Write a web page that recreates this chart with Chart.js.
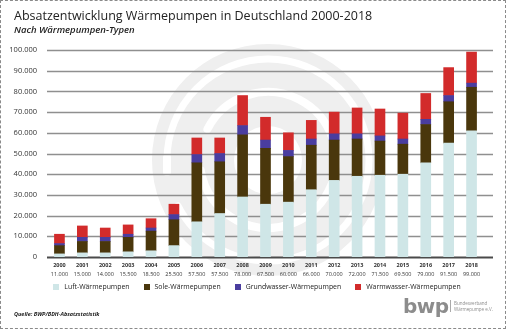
<!DOCTYPE html>
<html>
<head>
<meta charset="utf-8">
<script src="https://cdn.jsdelivr.net/npm/chart.js@4"></script>
<style>
  body { margin: 0; background: #fff; }
  #wrap { position: relative; width: 506px; height: 329px; overflow: hidden; background: #fff; font-family: "Open Sans", sans-serif; color: #222; }
  #wrap canvas { position: absolute; left: 0; top: 0; }
  #frame { position: absolute; left: 0; top: 0; right: 0; bottom: 0; border: 1px dashed #8a8a8a; pointer-events: none; }
  #title { position: absolute; left: 14px; top: 7px; font-size: 12.5px; white-space: nowrap; }
  #subtitle { position: absolute; left: 14px; top: 23px; font-size: 9.5px; font-style: italic; font-weight: 600; white-space: nowrap; }
  #legend { position: absolute; left: 0; width: 506px; top: 282px; display: flex; justify-content: center; gap: 14px; font-size: 6.9px; padding-left: 4px; }
  #legend span { display: flex; align-items: center; white-space: nowrap; }
  #legend i { display: inline-block; width: 6px; height: 6px; margin-right: 5px; }
  #source { position: absolute; left: 14px; top: 310px; font-size: 5.5px; font-style: italic; font-weight: 700; }
  #logo { position: absolute; left: 403px; top: 294px; font-family: "DejaVu Sans", sans-serif; font-weight: 700; font-size: 20px; color: #8c8c8c; letter-spacing: -0.5px; }
  #logoText { position: absolute; left: 450px; top: 300px; border-left: 1px solid #aaa; padding-left: 3px; font-size: 4.5px; line-height: 6px; color: #8c8c8c; }
</style>
</head>
<body>
<div id="wrap">
  <canvas id="chart" width="506" height="329"></canvas>
  <div id="title">Absatzentwicklung Wärmepumpen in Deutschland 2000-2018</div>
  <div id="subtitle">Nach Wärmepumpen-Typen</div>
  <div id="legend"></div>
  <div id="source">Quelle: BWP/BDH-Absatzstatistik</div>
  <div id="logo">bwp</div>
  <div id="logoText">Bundesverband<br>Wärmepumpe e.V.</div>
  <div id="frame"></div>
</div>
<script>
const years = ['2000','2001','2002','2003','2004','2005','2006','2007','2008','2009','2010','2011','2012','2013','2014','2015','2016','2017','2018'];
const totals = [11000, 15000, 14000, 15500, 18500, 25500, 57500, 57500, 78000, 67500, 60000, 66000, 70000, 72000, 71500, 69500, 79000, 91500, 99000];

// units sold per heat pump type
const luft        = [1500, 2000, 2000, 2500, 3000, 5500, 17000, 21000, 29000, 25500, 26500, 32500, 37000, 39000, 39500, 40000, 45500, 55000, 61000];
const sole        = [4000, 5500, 5500, 7000, 9500, 12500, 28500, 25000, 30000, 27000, 22000, 21500, 19500, 18000, 16500, 14500, 18500, 20000, 21000];
const grundwasser = [1000, 2000, 2000, 1500, 1500, 2500, 4000, 4000, 4500, 4000, 3000, 3000, 3000, 2500, 2500, 2500, 2500, 3000, 2000];
const warmwasser  = [4500, 5500, 4500, 4500, 4500, 5000, 8000, 7500, 14500, 11000, 8500, 9000, 10500, 12500, 13000, 12500, 12500, 13500, 15000];

const seriesNames = ['Luft-Wärmepumpen', 'Sole-Wärmepumpen', 'Grundwasser-Wärmepumpen', 'Warmwasser-Wärmepumpen'];
const seriesColors = ['#cfe6e7', '#4a370c', '#4a3d9f', '#d22b2b'];

const fmt = n => String(n).replace(/\B(?=(\d{3})+(?!\d))/g, '.');

// legend row under the chart
const legendEl = document.getElementById('legend');
seriesNames.forEach((name, i) => {
  const item = document.createElement('span');
  item.innerHTML = `<i style="background:${seriesColors[i]}"></i>${name}`;
  legendEl.appendChild(item);
});

// grey spiral logo behind the bars
const watermark = {
  id: 'watermark',
  beforeDraw(chart) {
    const ctx = chart.ctx;
    const cx = 268, cy = 160;
    ctx.save();
    ctx.fillStyle = '#efefef';
    ctx.beginPath(); ctx.arc(cx, cy, 116, 0, Math.PI * 2); ctx.fill();
    // white spiral channels
    ctx.strokeStyle = '#fff';
    ctx.lineCap = 'round';
    ctx.lineWidth = 7;
    ctx.beginPath(); ctx.arc(cx, cy, 101, Math.PI * 1.0, Math.PI * 0.85); ctx.stroke();
    ctx.lineWidth = 8;
    ctx.beginPath(); ctx.arc(cx, cy, 68, Math.PI * 1.15, Math.PI * 0.95); ctx.stroke();
    ctx.beginPath(); ctx.moveTo(cx - 101, cy - 2); ctx.lineTo(cx - 101, cy + 12); ctx.stroke();
    ctx.fillStyle = '#fff';
    ctx.beginPath(); ctx.arc(cx, cy, 34, 0, Math.PI * 2); ctx.fill();
    ctx.restore();
  }
};

// horizontal grid lines, running a bit past the last bar
const gridLines = {
  id: 'gridLines',
  beforeDatasetsDraw(chart) {
    const { ctx, chartArea, scales: { y } } = chart;
    ctx.save();
    y.ticks.forEach(t => {
      const py = Math.round(y.getPixelForValue(t.value)) + 0.5;
      ctx.strokeStyle = t.value === 0 ? '#4a4a4a' : '#8f8f8f';
      ctx.lineWidth = t.value === 0 ? 2 : 1.4;
      ctx.beginPath();
      ctx.moveTo(47, py);
      ctx.lineTo(chartArea.right + 10, py);
      ctx.stroke();
    });
    ctx.restore();
  }
};

const noGrid = { display: false, drawTicks: false };

new Chart(document.getElementById('chart'), {
  type: 'bar',
  data: {
    labels: years,
    datasets: [luft, sole, grundwasser, warmwasser].map((d, i) => ({
      label: seriesNames[i],
      data: d,
      backgroundColor: seriesColors[i],
      borderWidth: 0,
      barThickness: 10
    }))
  },
  options: {
    responsive: false,
    animation: false,
    layout: { padding: { top: 50, left: 0, right: 23, bottom: 50 } },
    plugins: { legend: { display: false }, tooltip: { enabled: false } },
    scales: {
      x: {
        stacked: true,
        offset: true,
        grid: noGrid,
        border: { display: false },
        ticks: { padding: 5, color: '#333', font: { family: 'Open Sans', size: 5.5, weight: 'bold' }, maxRotation: 0, autoSkip: false },
        afterFit: s => { s.height = 13; }
      },
      x2: {
        type: 'category',
        position: 'bottom',
        labels: totals.map(fmt),
        offset: true,
        grid: noGrid,
        border: { display: false },
        ticks: { padding: 1, color: '#333', font: { family: 'Open Sans', size: 5.5 }, maxRotation: 0, autoSkip: false },
        afterFit: s => { s.height = 9; }
      },
      y: {
        stacked: true,
        min: 0,
        max: 100000,
        grid: noGrid,
        border: { display: false },
        ticks: { stepSize: 10000, padding: 11, color: '#333', font: { family: 'Open Sans', size: 7.5 }, callback: v => fmt(v) },
        afterFit: s => { s.width = 48; }
      }
    }
  },
  plugins: [watermark, gridLines]
});
</script>
</body>
</html>
